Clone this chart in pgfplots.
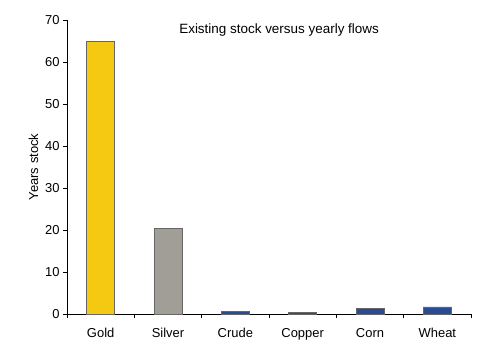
\documentclass[border=0pt]{standalone}
\usepackage{fontspec}
\setmainfont{Liberation Sans}
\usepackage{pgfplots}
\pgfplotsset{compat=1.18}
\definecolor{goldc}{HTML}{F5C811}
\definecolor{silverc}{HTML}{A19D97}
\definecolor{bluec}{HTML}{2B4A94}
\begin{document}
\begin{tikzpicture}
\begin{axis}[
  scale only axis, width=404bp, height=294bp,
  at={(0,0)}, anchor=south west,
  xmin=-0.5, xmax=5.5, ymin=0, ymax=70,
  axis lines*=left,
  axis line style={black, line width=0.8pt},
  ytick={0,10,...,70},
  xtick={0,...,5},
  xticklabels={Gold,Silver,Crude,Copper,Corn,Wheat},
  minor xtick={-0.5,0.5,...,5.5},
  major x tick style={draw=none},
  minor x tick style={black, line width=0.8pt},
  y tick style={black, line width=0.8pt},
  tick align=outside,
  major tick length=4bp, minor tick length=4bp,
  tick label style={font=\fontsize{13}{15}\selectfont, /pgf/number format/assume math mode=true},
  xticklabel style={yshift=-7bp},
  ylabel={Years stock},
  ylabel style={font=\fontsize{13}{15}\selectfont},
  clip=false,
]
\addplot[ybar, bar width=28bp, fill=goldc, draw=black!60] coordinates {(0,65)};
\addplot[ybar, bar width=28bp, fill=silverc, draw=black!60] coordinates {(1,20.5)};
\addplot[ybar, bar width=28bp, fill=bluec, draw=black!60] coordinates {(2,0.7) (3,0.4) (4,1.35) (5,1.7)};
\node[font=\fontsize{13.5}{15}\selectfont] at (rel axis cs:0.525,0.966) {Existing stock versus yearly flows};
\end{axis}
\path[use as bounding box] (-67bp,-37bp) rectangle (426bp,314bp);
\end{tikzpicture}
\end{document}
